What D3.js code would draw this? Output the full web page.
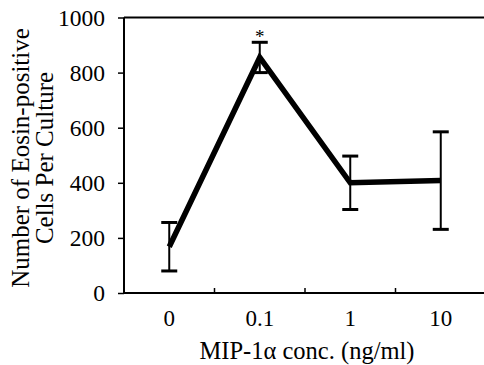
<!DOCTYPE html>
<html>
<head>
<meta charset="utf-8">
<script src="https://cdn.jsdelivr.net/npm/d3@7"></script>
<style>
  body { margin: 0; background: #fff; }
  svg { display: block; }
  svg text { font-family: "Liberation Serif", "Times New Roman", serif; fill: #000; }
</style>
</head>
<body>
<div id="chart"></div>
<script>
// Data
const concentrations = ['0', '0.1', '1', '10'];
const meanCells = [168, 855, 400, 408];
const errCells = [88, 55, 97, 177];
const yTicks = [0, 200, 400, 600, 800, 1000];
const significant = [false, true, false, false];

const width = 484, height = 365;
const plot = { left: 124, right: 486, top: 17.5, bottom: 293 };

const svg = d3.select('#chart')
  .append('svg')
  .attr('width', width)
  .attr('height', height);

const x = d3.scaleBand()
  .domain(concentrations)
  .range([plot.left, plot.right]);

const y = d3.scaleLinear()
  .domain([0, 1000])
  .range([plot.bottom, plot.top]);

const cx = d => x(d) + x.bandwidth() / 2;

// Top frame line
svg.append('line')
  .attr('x1', plot.left).attr('x2', width)
  .attr('y1', y(1000)).attr('y2', y(1000))
  .attr('stroke', '#000').attr('stroke-width', 2);

// Y axis
const yAxis = svg.append('g')
  .attr('transform', `translate(${plot.left},0)`)
  .call(d3.axisLeft(y).tickValues(yTicks).tickSize(6).tickPadding(13).tickFormat(d3.format('d')));
yAxis.attr('font-family', null);
yAxis.select('.domain').attr('stroke-width', 2).attr('d', `M0,${plot.bottom}V${plot.top}`);
yAxis.selectAll('.tick line').attr('stroke-width', 1.5);
yAxis.selectAll('text').attr('font-size', 23.5);

// X axis: labels under categories, small upward ticks at band boundaries
const xAxis = svg.append('g')
  .attr('transform', `translate(0,${plot.bottom})`)
  .call(d3.axisBottom(x).tickSize(0).tickPadding(17));
xAxis.attr('font-family', null);
xAxis.select('.domain').attr('stroke-width', 2).attr('d', `M${plot.left},0H${width}`);
xAxis.selectAll('text').attr('font-size', 23);

svg.append('g')
  .selectAll('line')
  .data(concentrations.slice(1))
  .join('line')
  .attr('x1', d => x(d)).attr('x2', d => x(d))
  .attr('y1', plot.bottom).attr('y2', plot.bottom - 5)
  .attr('stroke', '#000').attr('stroke-width', 1.5);

// Error bars
const eb = svg.append('g').attr('stroke', '#000');
eb.selectAll('.stem')
  .data(concentrations)
  .join('line')
  .attr('class', 'stem')
  .attr('x1', d => cx(d)).attr('x2', d => cx(d))
  .attr('y1', (d, i) => y(meanCells[i] + errCells[i]))
  .attr('y2', (d, i) => y(meanCells[i] - errCells[i]))
  .attr('stroke-width', 2);
[1, -1].forEach(sign => {
  eb.selectAll('.cap' + (sign > 0 ? 'hi' : 'lo'))
    .data(concentrations)
    .join('line')
    .attr('class', 'cap' + (sign > 0 ? 'hi' : 'lo'))
    .attr('x1', d => cx(d) - 8).attr('x2', d => cx(d) + 8)
    .attr('y1', (d, i) => y(meanCells[i] + sign * errCells[i]))
    .attr('y2', (d, i) => y(meanCells[i] + sign * errCells[i]))
    .attr('stroke-width', 3);
});

// Mean line
const line = d3.line()
  .x((d, i) => cx(concentrations[i]))
  .y(d => y(d));
svg.append('path')
  .datum(meanCells)
  .attr('d', line)
  .attr('fill', 'none')
  .attr('stroke', '#000')
  .attr('stroke-width', 5.5)
  .attr('stroke-linejoin', 'miter');

// Significance marker
svg.selectAll('.star')
  .data(concentrations.filter((d, i) => significant[i]))
  .join('text')
  .attr('class', 'star')
  .attr('x', d => cx(d))
  .attr('y', d => y(meanCells[concentrations.indexOf(d)] + errCells[concentrations.indexOf(d)]) + 1)
  .attr('text-anchor', 'middle')
  .attr('font-size', 19)
  .text('*');

// Axis titles
svg.append('text')
  .attr('x', 307).attr('y', 359)
  .attr('text-anchor', 'middle')
  .attr('font-size', 24.5)
  .text('MIP-1α conc. (ng/ml)');

const yTitle = svg.append('text')
  .attr('transform', 'translate(0,158) rotate(-90)')
  .attr('text-anchor', 'middle')
  .attr('font-size', 25);
yTitle.append('tspan').attr('x', 0).attr('y', 29).text('Number of Eosin-positive');
yTitle.append('tspan').attr('x', 0).attr('y', 53).text('Cells Per Culture');
</script>
</body>
</html>
